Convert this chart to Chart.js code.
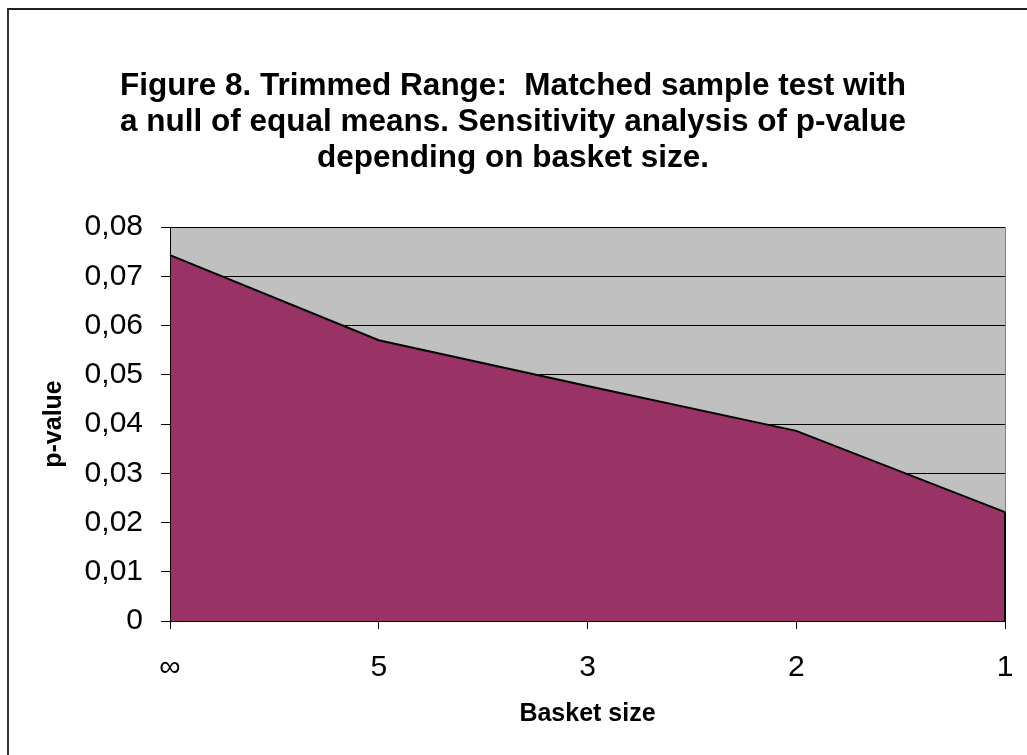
<!DOCTYPE html>
<html>
<head>
<meta charset="utf-8">
<script src="https://cdn.jsdelivr.net/npm/chart.js@4.4.0/dist/chart.umd.min.js"></script>
<style>
  body { margin: 0; background: #fff; }
  #wrap { position: relative; width: 1027px; height: 755px; }
  #frame { position: absolute; left: 7px; top: 8px; width: 1030px; height: 760px;
           border-left: 2px solid #333; border-top: 2px solid #222; box-sizing: border-box; }
  canvas { position: absolute; left: 0; top: 0; }
</style>
</head>
<body>
<div id="wrap">
  <div id="frame"></div>
  <canvas id="chart" width="1027" height="755"></canvas>
</div>
<script>
// Data
const basketSizes = ['∞', '5', '3', '2', '1'];
const pValues = [0.0743, 0.0570, 0.0477, 0.0386, 0.0221];
const titleLines = [
  'Figure 8. Trimmed Range:  Matched sample test with',
  'a null of equal means. Sensitivity analysis of p-value',
  'depending on basket size.'
];

const FONT = "'Liberation Sans', Arial, sans-serif";

// grey plot background + right edge of the area outline
const plotFrame = {
  id: 'plotFrame',
  beforeDraw(chart) {
    const { ctx, chartArea: a } = chart;
    ctx.save();
    ctx.fillStyle = '#c0c0c0';
    ctx.fillRect(a.left, a.top, a.right - a.left, a.bottom - a.top);
    ctx.strokeStyle = '#808080';
    ctx.lineWidth = 1;
    ctx.beginPath();
    ctx.moveTo(a.right + 0.5, a.top);
    ctx.lineTo(a.right + 0.5, a.bottom);
    ctx.stroke();
    ctx.restore();
  },
  afterDatasetsDraw(chart) {
    const { ctx, chartArea: a } = chart;
    const pts = chart.getDatasetMeta(0).data;
    const last = pts[pts.length - 1];
    ctx.save();
    ctx.strokeStyle = '#000';
    ctx.lineWidth = 2;
    ctx.beginPath();
    ctx.moveTo(last.x, last.y);
    ctx.lineTo(last.x, a.bottom);
    ctx.stroke();
    ctx.restore();
  }
};

new Chart(document.getElementById('chart'), {
  type: 'line',
  data: {
    labels: basketSizes,
    datasets: [{
      label: 'p-value',
      data: pValues,
      borderColor: '#000',
      borderWidth: 2,
      backgroundColor: '#993366',
      fill: 'origin',
      pointRadius: 0,
      tension: 0
    }]
  },
  options: {
    responsive: false,
    animation: false,
    layout: { padding: { left: 21, right: 22, top: 0, bottom: 0 } },
    plugins: {
      legend: { display: false },
      tooltip: { enabled: false },
      title: {
        display: true,
        text: titleLines,
        color: '#000',
        font: { family: FONT, size: 31.5, weight: 'bold', lineHeight: '36px' },
        padding: { top: 68, bottom: 51 }
      }
    },
    scales: {
      x: {
        offset: false,
        afterFit: s => { s.height = 134; s.paddingLeft = 0; s.paddingRight = 0; },
        grid: { drawOnChartArea: false, drawTicks: true, tickLength: 8, color: '#000' },
        border: { color: '#000', width: 1, z: 1 },
        ticks: { color: '#000', padding: 21, font: { family: FONT, size: 30 }, maxRotation: 0 },
        title: {
          display: true, text: 'Basket size', color: '#000',
          font: { family: FONT, size: 25, weight: 'bold', lineHeight: 1.2 },
          padding: { top: 0, bottom: 26 }
        }
      },
      y: {
        min: 0,
        max: 0.08,
        afterFit: s => { s.width = 149; },
        grid: { color: '#000', lineWidth: 1, tickLength: 9, drawTicks: true },
        border: { color: '#000', width: 1, z: 1 },
        ticks: {
          stepSize: 0.01,
          color: '#000',
          padding: 18,
          font: { family: FONT, size: 30 },
          callback: v => v === 0 ? '0' : v.toFixed(2).replace('.', ',')
        },
        title: {
          display: true, text: 'p-value', color: '#000',
          font: { family: FONT, size: 25, weight: 'bold', lineHeight: 1.2 },
          padding: { top: 18, bottom: 0 }
        }
      }
    }
  },
  plugins: [plotFrame]
});
</script>
</body>
</html>
